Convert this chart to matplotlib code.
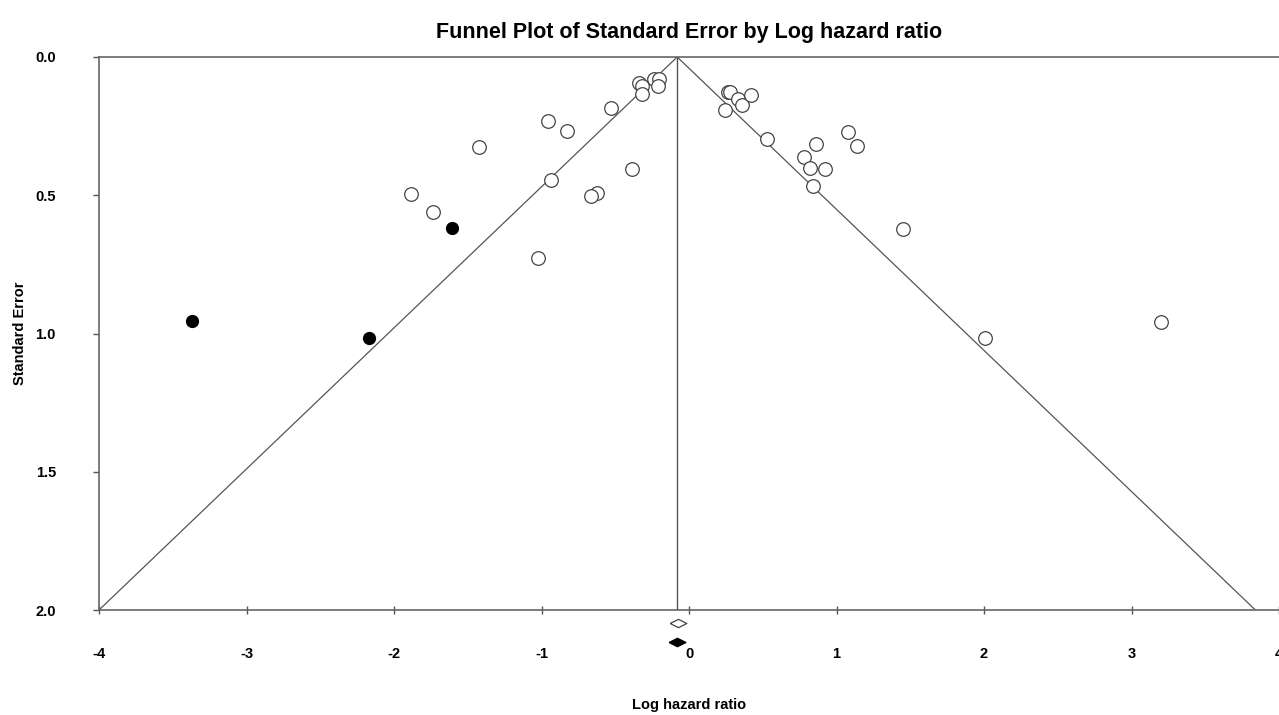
import numpy as np
import matplotlib
matplotlib.use("Agg")
import matplotlib.pyplot as plt

plt.rcParams['font.family'] = ['Liberation Sans', 'DejaVu Sans']
plt.rcParams['axes.unicode_minus'] = False

# observed studies (open circles)
obs_x = [-0.337, -0.319, -0.317, -0.238, -0.202, -0.212, -0.532, -0.957, -0.826,
         -1.424, -0.389, -0.937, -0.627, -0.667, -1.887, -1.736, -1.027,
         0.267, 0.278, 0.331, 0.358, 0.419, 0.244, 0.532, 0.864, 1.081, 1.136,
         0.783, 0.821, 0.919, 0.840, 1.451, 2.010, 3.200]
obs_se = [0.095, 0.104, 0.135, 0.081, 0.081, 0.105, 0.183, 0.231, 0.267,
          0.325, 0.406, 0.444, 0.491, 0.503, 0.495, 0.561, 0.726,
          0.125, 0.128, 0.153, 0.174, 0.137, 0.192, 0.295, 0.316, 0.272, 0.321,
          0.362, 0.400, 0.405, 0.468, 0.621, 1.016, 0.957]

# imputed studies (filled circles, trim and fill)
imp_x = [-3.367, -2.172, -1.609]
imp_se = [0.955, 1.016, 0.618]

obs_mean = -0.075
adj_mean = -0.082
center = -0.08
se_max = 2.0

# wide flat diamond
diamond = [(-1, 0), (0, 0.5), (1, 0), (0, -0.5), (-1, 0)]

fig = plt.figure(figsize=(12.79, 7.15), dpi=100)
ax = fig.add_axes([99 / 1279, 1 - 610 / 715, 1 - 99 / 1279, (610 - 57) / 715])

ax.plot([center - 1.96 * se_max, center, center + 1.96 * se_max], [se_max, 0, se_max],
        color="#555555", lw=0.9)
ax.plot([center, center], [0, se_max], color="#555555", lw=1.0)

ax.plot(obs_x, obs_se, "o", ms=9.8, mfc="white", mec="#444444", mew=0.9, ls="none")
ax.plot(imp_x, imp_se, "o", ms=8.5, mfc="black", mec="black", ls="none")

ax.plot([obs_mean], [2.048], marker=diamond, ms=12, mfc="white", mec="#444444",
        mew=0.9, clip_on=False)
ax.plot([adj_mean], [2.115], marker=diamond, ms=12, mfc="black", mec="black",
        clip_on=False)

ax.set_xlim(-4, 4)
ax.set_ylim(2.0, 0.0)
ax.set_xticks([-4, -3, -2, -1, 0, 1, 2, 3, 4])
ax.set_yticks([0.0, 0.5, 1.0, 1.5, 2.0])
ax.set_yticklabels(["0.0", "0.5", "1.0", "1.5", "2.0"])

ax.spines["right"].set_visible(False)
for s in ["top", "left", "bottom"]:
    ax.spines[s].set_color("#666666")
    ax.spines[s].set_linewidth(1.2)

ax.tick_params(axis="x", direction="inout", length=6, width=1, color="#555555",
               pad=24, labelsize=10.5)
ax.tick_params(axis="y", direction="out", length=4, width=1, color="#555555",
               pad=27, labelsize=10.5)
for lab in ax.get_xticklabels() + ax.get_yticklabels():
    lab.set_fontweight("bold")

ax.set_xlabel("Log hazard ratio", fontsize=10.5, fontweight="bold", labelpad=26)
ax.set_ylabel("Standard Error", fontsize=10.5, fontweight="bold", labelpad=6)
ax.set_title("Funnel Plot of Standard Error by Log hazard ratio", fontsize=15.5,
             fontweight="bold", pad=14, x=(689 - 99) / (1279 - 99))

fig.savefig("out.png", dpi=100)
